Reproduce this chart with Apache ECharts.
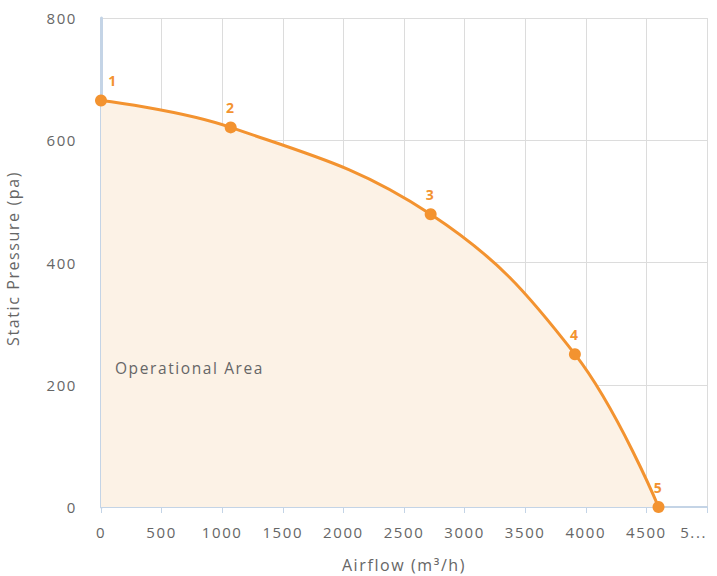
<!DOCTYPE html>
<html><head><meta charset="utf-8">
<script src="https://cdn.jsdelivr.net/npm/echarts@6/dist/echarts.min.js"></script>
<style>html,body{margin:0;padding:0;background:#fff}#c{width:717px;height:576px}
#c text{letter-spacing:1.6px}</style>
</head><body><div id="c"></div>
<script>
const airflow = [0, 1070, 2720, 3910, 4600];
const pressure = [665, 621, 479, 250, 0];
const pointLabels = ['1', '2', '3', '4', '5'];
const xTicksMax = 5000;
const yTicksMax = 800;
const areaLabel = 'Operational Area';

const font = '"Open Sans", sans-serif';
const chart = echarts.init(document.getElementById('c'), null, { renderer: 'svg' });
chart.setOption({
  animation: false,
  grid: { left: 101, right: 10, top: 18, bottom: 69, containLabel: false, outerBoundsMode: 'none' },
  xAxis: {
    type: 'value', min: 0, max: xTicksMax, interval: 500,
    name: 'Airflow (m³/h)', nameLocation: 'middle', nameGap: 50,
    nameTextStyle: { color: '#666', fontSize: 16, fontFamily: font },
    axisLine: { show: true, lineStyle: { color: '#c4d4e6', width: 2 } },
    axisTick: { show: true, length: 6, lineStyle: { color: '#c4d4e6' } },
    axisLabel: { color: '#666', fontSize: 15, fontFamily: font, margin: 17,
      alignMaxLabel: 'right',
      formatter: v => v === xTicksMax ? '5...' : String(v) },
    splitLine: { show: true, lineStyle: { color: '#dcdcdc' } }
  },
  yAxis: {
    type: 'value', min: 0, max: yTicksMax, interval: 200,
    name: 'Static Pressure (pa)', nameLocation: 'middle', nameGap: 80,
    nameTextStyle: { color: '#666', fontSize: 16, fontFamily: font, padding: [0, 0, 0, 8] },
    axisLine: { show: true, lineStyle: { color: '#c4d4e6', width: 3 } },
    axisTick: { show: false },
    axisLabel: { color: '#666', fontSize: 15, fontFamily: font, margin: 24 },
    splitLine: { show: true, lineStyle: { color: '#dcdcdc' } }
  },
  series: [{
    type: 'line',
    data: airflow.map((x, i) => ({
      value: [x, pressure[i]],
      label: i === 0 ? { offset: [12, 0] } : {}
    })),
    smooth: 0.4,
    symbol: 'circle', symbolSize: 12,
    itemStyle: { color: '#f39330' },
    lineStyle: { color: '#f39330', width: 3 },
    areaStyle: { color: '#fcf2e6', opacity: 1 },
    label: { show: true, position: 'top', distance: 7, color: '#f39330',
      fontSize: 14, fontWeight: 'bold', fontFamily: font,
      formatter: p => pointLabels[p.dataIndex] },
    markPoint: {
      symbol: 'circle', symbolSize: 0,
      label: { show: true, position: 'right', distance: 0, color: '#666', fontSize: 15.5,
        fontFamily: font, formatter: areaLabel },
      data: [{ coord: [115, 227] }]
    }
  }]
});
</script></body></html>
